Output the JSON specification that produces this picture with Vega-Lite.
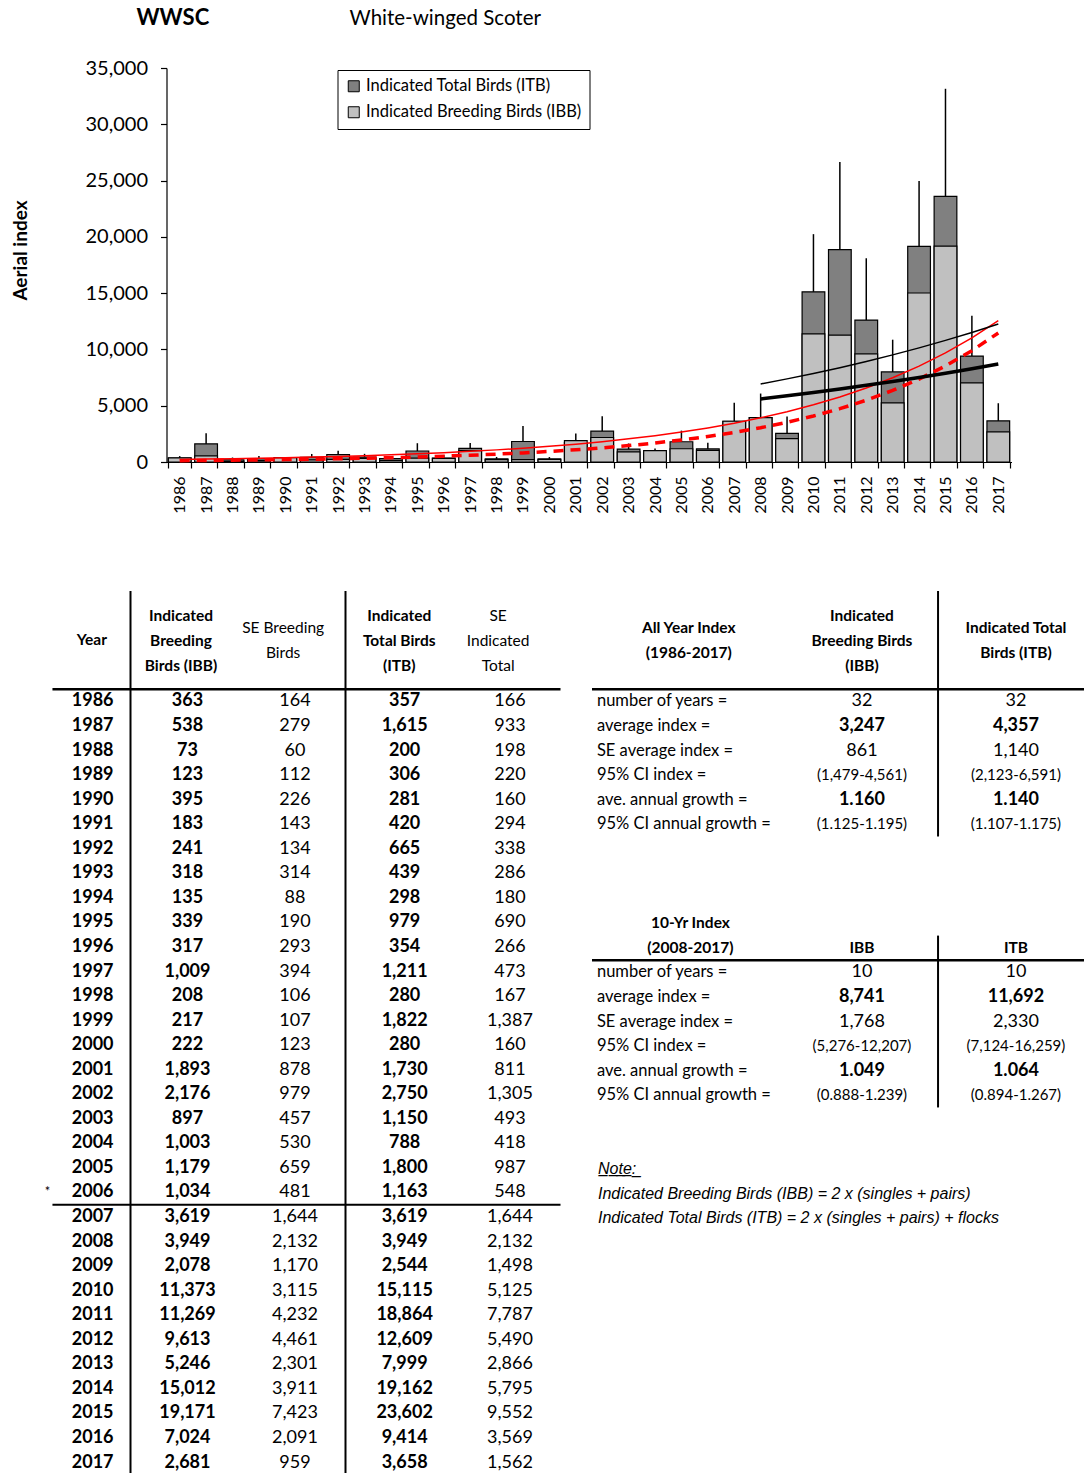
{
  "$schema": "https://vega.github.io/schema/vega-lite/v6.json",
  "background": "white",
  "padding": {"left": 11, "top": 6, "right": 0, "bottom": 0},
  "title": {"text": "WWSC", "anchor": "start", "frame": "group", "dx": 113.5, "offset": -21, "baseline": "top", "fontSize": 22, "fontWeight": "bold", "color": "black"},
  "spacing": 76,
  "datasets": {
    "years": [
      {"year":1986,"ibb":363,"seIbb":164,"itb":357,"seItb":166},
      {"year":1987,"ibb":538,"seIbb":279,"itb":1615,"seItb":933},
      {"year":1988,"ibb":73,"seIbb":60,"itb":200,"seItb":198},
      {"year":1989,"ibb":123,"seIbb":112,"itb":306,"seItb":220},
      {"year":1990,"ibb":395,"seIbb":226,"itb":281,"seItb":160},
      {"year":1991,"ibb":183,"seIbb":143,"itb":420,"seItb":294},
      {"year":1992,"ibb":241,"seIbb":134,"itb":665,"seItb":338},
      {"year":1993,"ibb":318,"seIbb":314,"itb":439,"seItb":286},
      {"year":1994,"ibb":135,"seIbb":88,"itb":298,"seItb":180},
      {"year":1995,"ibb":339,"seIbb":190,"itb":979,"seItb":690},
      {"year":1996,"ibb":317,"seIbb":293,"itb":354,"seItb":266},
      {"year":1997,"ibb":1009,"seIbb":394,"itb":1211,"seItb":473},
      {"year":1998,"ibb":208,"seIbb":106,"itb":280,"seItb":167},
      {"year":1999,"ibb":217,"seIbb":107,"itb":1822,"seItb":1387},
      {"year":2000,"ibb":222,"seIbb":123,"itb":280,"seItb":160},
      {"year":2001,"ibb":1893,"seIbb":878,"itb":1730,"seItb":811},
      {"year":2002,"ibb":2176,"seIbb":979,"itb":2750,"seItb":1305},
      {"year":2003,"ibb":897,"seIbb":457,"itb":1150,"seItb":493},
      {"year":2004,"ibb":1003,"seIbb":530,"itb":788,"seItb":418},
      {"year":2005,"ibb":1179,"seIbb":659,"itb":1800,"seItb":987},
      {"year":2006,"ibb":1034,"seIbb":481,"itb":1163,"seItb":548,"note":"*"},
      {"year":2007,"ibb":3619,"seIbb":1644,"itb":3619,"seItb":1644},
      {"year":2008,"ibb":3949,"seIbb":2132,"itb":3949,"seItb":2132},
      {"year":2009,"ibb":2078,"seIbb":1170,"itb":2544,"seItb":1498},
      {"year":2010,"ibb":11373,"seIbb":3115,"itb":15115,"seItb":5125},
      {"year":2011,"ibb":11269,"seIbb":4232,"itb":18864,"seItb":7787},
      {"year":2012,"ibb":9613,"seIbb":4461,"itb":12609,"seItb":5490},
      {"year":2013,"ibb":5246,"seIbb":2301,"itb":7999,"seItb":2866},
      {"year":2014,"ibb":15012,"seIbb":3911,"itb":19162,"seItb":5795},
      {"year":2015,"ibb":19171,"seIbb":7423,"itb":23602,"seItb":9552},
      {"year":2016,"ibb":7024,"seIbb":2091,"itb":9414,"seItb":3569},
      {"year":2017,"ibb":2681,"seIbb":959,"itb":3658,"seItb":1562}
    ],
    "trend": [
      {"year":1986,"itbAll":228,"ibbAll":119},
      {"year":1987,"itbAll":260,"ibbAll":138},
      {"year":1988,"itbAll":296,"ibbAll":160},
      {"year":1989,"itbAll":336,"ibbAll":185},
      {"year":1990,"itbAll":383,"ibbAll":215},
      {"year":1991,"itbAll":436,"ibbAll":249},
      {"year":1992,"itbAll":496,"ibbAll":288},
      {"year":1993,"itbAll":564,"ibbAll":334},
      {"year":1994,"itbAll":642,"ibbAll":387},
      {"year":1995,"itbAll":731,"ibbAll":448},
      {"year":1996,"itbAll":831,"ibbAll":520},
      {"year":1997,"itbAll":946,"ibbAll":602},
      {"year":1998,"itbAll":1077,"ibbAll":698},
      {"year":1999,"itbAll":1225,"ibbAll":808},
      {"year":2000,"itbAll":1394,"ibbAll":937},
      {"year":2001,"itbAll":1587,"ibbAll":1085},
      {"year":2002,"itbAll":1806,"ibbAll":1257},
      {"year":2003,"itbAll":2055,"ibbAll":1457},
      {"year":2004,"itbAll":2338,"ibbAll":1688},
      {"year":2005,"itbAll":2661,"ibbAll":1956},
      {"year":2006,"itbAll":3028,"ibbAll":2267},
      {"year":2007,"itbAll":3446,"ibbAll":2627},
      {"year":2008,"itbAll":3922,"ibbAll":3044,"itb10":6930,"ibb10":5597},
      {"year":2009,"itbAll":4463,"ibbAll":3527,"itb10":7384,"ibb10":5878},
      {"year":2010,"itbAll":5079,"ibbAll":4086,"itb10":7867,"ibb10":6174},
      {"year":2011,"itbAll":5779,"ibbAll":4735,"itb10":8382,"ibb10":6484},
      {"year":2012,"itbAll":6577,"ibbAll":5486,"itb10":8931,"ibb10":6810},
      {"year":2013,"itbAll":7484,"ibbAll":6357,"itb10":9516,"ibb10":7152},
      {"year":2014,"itbAll":8517,"ibbAll":7366,"itb10":10139,"ibb10":7512},
      {"year":2015,"itbAll":9692,"ibbAll":8535,"itb10":10803,"ibb10":7889},
      {"year":2016,"itbAll":11030,"ibbAll":9890,"itb10":11510,"ibb10":8286},
      {"year":2017,"itbAll":12552,"ibbAll":11460,"itb10":12264,"ibb10":8706}
    ]
  },
  "vconcat": [
    {
      "width": 988.5,
      "height": 394,
      "title": {"text": "White-winged Scoter", "anchor": "start", "frame": "group", "dx": 326.5, "offset": 29, "baseline": "top", "fontSize": 20.5, "fontWeight": "normal", "color": "black"},
      "data": {"name": "years"},
      "encoding": {
        "x": {"field": "year", "type": "ordinal", "scale": {"range": [143.5, 988.5], "paddingInner": 0.14, "paddingOuter": 0.07},
          "axis": {"title": null, "labelAngle": -90, "labelFontSize": 16, "labelPadding": 8, "tickBand": "extent", "tickSize": 6, "tickWidth": 1.2, "domainWidth": 1.2}}
      },
      "layer": [
        {"mark": {"type": "errorbar", "color": "black", "thickness": 1.5},
         "encoding": {
           "y": {"field": "itb", "type": "quantitative", "title": "Aerial index", "scale": {"domain": [0, 35000], "nice": false},
             "axis": {"values": [0,5000,10000,15000,20000,25000,30000,35000], "format": ",.0f", "offset": -143.5, "grid": false, "labelFontSize": 20, "labelPadding": 13, "tickSize": 6, "tickWidth": 1.2, "domainWidth": 1.2, "titleFontSize": 19, "titleFontWeight": "bold", "titleAngle": -90, "titleAlign": "center", "titleBaseline": "middle", "titleX": -146, "titleY": 182}},
           "yError": {"field": "seItb"}}},
        {"mark": {"type": "bar", "stroke": "black", "strokeWidth": 1.2},
         "encoding": {
           "y": {"field": "itb", "type": "quantitative", "title": "Aerial index"},
           "color": {"datum": "Indicated Total Birds (ITB)", "type": "nominal",
             "scale": {"domain": ["Indicated Total Birds (ITB)", "Indicated Breeding Birds (IBB)"], "range": ["#808080", "#c0c0c0"]},
             "legend": {"orient": "none", "legendX": 314.5, "legendY": 2, "title": null, "symbolType": "square", "symbolSize": 121, "symbolStrokeColor": "black", "symbolStrokeWidth": 1, "labelFontSize": 16.5, "labelLimit": 400, "labelColor": "black", "strokeColor": "black", "fillColor": "white", "padding": 8, "rowPadding": 9, "labelOffset": 4}}}},
        {"mark": {"type": "bar", "stroke": "black", "strokeWidth": 1.2},
         "encoding": {
           "y": {"field": "ibb", "type": "quantitative", "title": "Aerial index"},
           "color": {"datum": "Indicated Breeding Birds (IBB)", "type": "nominal"}}},
        {"data": {"name": "trend"}, "mark": {"type": "line", "color": "#ff0000", "strokeWidth": 1.5},
         "encoding": {"y": {"field": "itbAll", "type": "quantitative", "title": "Aerial index"}}},
        {"data": {"name": "trend"}, "mark": {"type": "line", "color": "#ff0000", "strokeWidth": 3.5, "strokeDash": [10, 7]},
         "encoding": {"y": {"field": "ibbAll", "type": "quantitative", "title": "Aerial index"}}},
        {"data": {"name": "trend"}, "mark": {"type": "line", "color": "black", "strokeWidth": 1.5},
         "encoding": {"y": {"field": "itb10", "type": "quantitative", "title": "Aerial index"}}},
        {"data": {"name": "trend"}, "mark": {"type": "line", "color": "black", "strokeWidth": 3.5},
         "encoding": {"y": {"field": "ibb10", "type": "quantitative", "title": "Aerial index"}}}
      ]
    },
    {
      "spacing": 28,
      "hconcat": [
        {
          "width": 537.5,
          "height": 883.8,
          "data": {"name": "years"},
          "layer": [
            {"data": {"values": [{}]}, "mark": {"type": "rule", "strokeWidth": 2, "color": "black"},
             "encoding": {"x": {"datum": "ibb", "type": "nominal", "bandPosition": 0, "scale": {"type": "band", "domain": ["year","ibb","seIbb","itb","seItb"]}, "axis": null}}},
            {"data": {"values": [{}]}, "mark": {"type": "rule", "strokeWidth": 2, "color": "black"},
             "encoding": {"x": {"datum": "itb", "type": "nominal", "bandPosition": 0, "scale": {"type": "band"}, "axis": null}}},
            {"data": {"values": [{}]}, "mark": {"type": "rule", "strokeWidth": 2.5, "color": "black"},
             "encoding": {
               "x": {"datum": "year", "type": "nominal", "bandPosition": 0.274, "scale": {"type": "band"}, "axis": null},
               "x2": {"datum": "seItb", "bandPosition": 1},
               "y": {"datum": 1986, "type": "ordinal", "bandPosition": 0, "axis": null,
                 "scale": {"type": "band", "domain": ["h1","h2","h3","h4",1986,1987,1988,1989,1990,1991,1992,1993,1994,1995,1996,1997,1998,1999,2000,2001,2002,2003,2004,2005,2006,2007,2008,2009,2010,2011,2012,2013,2014,2015,2016,2017]}}}},
            {"data": {"values": [{}]}, "mark": {"type": "rule", "strokeWidth": 2, "color": "black"},
             "encoding": {
               "x": {"datum": "year", "type": "nominal", "bandPosition": 0.274, "scale": {"type": "band"}, "axis": null},
               "x2": {"datum": "seItb", "bandPosition": 1},
               "y": {"datum": 2007, "type": "ordinal", "bandPosition": 0, "scale": {"type": "band"}, "axis": null}}},
            {"mark": {"type": "text", "fontSize": 18, "fontWeight": "bold", "align": "right"},
             "encoding": {
               "x": {"datum": "year", "type": "nominal", "bandPosition": 0.842, "scale": {"type": "band"}, "axis": null},
               "y": {"field": "year", "type": "ordinal", "scale": {"type": "band"}, "axis": null},
               "text": {"field": "year", "type": "ordinal"}}},
            {"mark": {"type": "text", "fontSize": 18, "fontWeight": "bold"},
             "encoding": {
               "x": {"datum": "ibb", "type": "nominal", "bandPosition": 0.53, "scale": {"type": "band"}, "axis": null},
               "y": {"field": "year", "type": "ordinal", "scale": {"type": "band"}, "axis": null},
               "text": {"field": "ibb", "type": "quantitative", "format": ","}}},
            {"mark": {"type": "text", "fontSize": 18, "fontWeight": "normal"},
             "encoding": {
               "x": {"datum": "seIbb", "type": "nominal", "bandPosition": 0.53, "scale": {"type": "band"}, "axis": null},
               "y": {"field": "year", "type": "ordinal", "scale": {"type": "band"}, "axis": null},
               "text": {"field": "seIbb", "type": "quantitative", "format": ","}}},
            {"mark": {"type": "text", "fontSize": 18, "fontWeight": "bold"},
             "encoding": {
               "x": {"datum": "itb", "type": "nominal", "bandPosition": 0.55, "scale": {"type": "band"}, "axis": null},
               "y": {"field": "year", "type": "ordinal", "scale": {"type": "band"}, "axis": null},
               "text": {"field": "itb", "type": "quantitative", "format": ","}}},
            {"mark": {"type": "text", "fontSize": 18, "fontWeight": "normal"},
             "encoding": {
               "x": {"datum": "seItb", "type": "nominal", "bandPosition": 0.53, "scale": {"type": "band"}, "axis": null},
               "y": {"field": "year", "type": "ordinal", "scale": {"type": "band"}, "axis": null},
               "text": {"field": "seItb", "type": "quantitative", "format": ","}}},
            {"transform": [{"filter": "datum.note"}],
             "mark": {"type": "text", "fontSize": 13, "fontWeight": "normal"},
             "encoding": {
               "x": {"datum": "year", "type": "nominal", "bandPosition": 0.228, "scale": {"type": "band"}, "axis": null},
               "y": {"field": "year", "type": "ordinal", "scale": {"type": "band"}, "axis": null},
               "text": {"field": "note", "type": "nominal"}}},
            {"data": {"values": [{}]}, "mark": {"type": "text", "fontSize": 15.5, "fontWeight": "bold"},
             "encoding": {
               "x": {"datum": "year", "type": "nominal", "bandPosition": 0.64, "scale": {"type": "band"}, "axis": null},
               "y": {"datum": "h3", "type": "ordinal", "bandPosition": 0, "scale": {"type": "band"}, "axis": null},
               "text": {"value": "Year"}}},
            {"data": {"values": [{}]}, "mark": {"type": "text", "fontSize": 15.5, "fontWeight": "bold", "lineHeight": 25},
             "encoding": {
               "x": {"datum": "ibb", "type": "nominal", "bandPosition": 0.47, "scale": {"type": "band"}, "axis": null},
               "y": {"datum": "h2", "type": "ordinal", "bandPosition": 0, "scale": {"type": "band"}, "axis": null},
               "text": {"value": ["Indicated", "Breeding", "Birds (IBB)"]}}},
            {"data": {"values": [{}]}, "mark": {"type": "text", "fontSize": 15.5, "fontWeight": "normal", "lineHeight": 25},
             "encoding": {
               "x": {"datum": "seIbb", "type": "nominal", "bandPosition": 0.42, "scale": {"type": "band"}, "axis": null},
               "y": {"datum": "h2", "type": "ordinal", "bandPosition": 0.5, "scale": {"type": "band"}, "axis": null},
               "text": {"value": ["SE Breeding", "Birds"]}}},
            {"data": {"values": [{}]}, "mark": {"type": "text", "fontSize": 15.5, "fontWeight": "bold", "lineHeight": 25},
             "encoding": {
               "x": {"datum": "itb", "type": "nominal", "bandPosition": 0.5, "scale": {"type": "band"}, "axis": null},
               "y": {"datum": "h2", "type": "ordinal", "bandPosition": 0, "scale": {"type": "band"}, "axis": null},
               "text": {"value": ["Indicated", "Total Birds", "(ITB)"]}}},
            {"data": {"values": [{}]}, "mark": {"type": "text", "fontSize": 15.5, "fontWeight": "normal", "lineHeight": 25},
             "encoding": {
               "x": {"datum": "seItb", "type": "nominal", "bandPosition": 0.42, "scale": {"type": "band"}, "axis": null},
               "y": {"datum": "h2", "type": "ordinal", "bandPosition": 0, "scale": {"type": "band"}, "axis": null},
               "text": {"value": ["SE", "Indicated", "Total"]}}}
          ]
        },
        {
          "spacing": 48.5,
          "vconcat": [
            {
              "width": 492,
              "height": 245.5,
              "data": {"values": [
                {"stat": "number of years =", "ibb": "32", "itb": "32"},
                {"stat": "average index =", "ibb": "3,247", "itb": "4,357"},
                {"stat": "SE average index =", "ibb": "861", "itb": "1,140"},
                {"stat": "95% CI index =", "ibb": "(1,479-4,561)", "itb": "(2,123-6,591)"},
                {"stat": "ave. annual growth =", "ibb": "1.160", "itb": "1.140"},
                {"stat": "95% CI annual growth =", "ibb": "(1.125-1.195)", "itb": "(1.107-1.175)"}
              ]},
              "layer": [
                {"data": {"values": [{}]}, "mark": {"type": "rule", "strokeWidth": 2, "color": "black"},
                 "encoding": {"x": {"datum": "itb", "type": "nominal", "bandPosition": 0.11, "scale": {"type": "band", "domain": ["label","ibb","itb"]}, "axis": null}}},
                {"data": {"values": [{}]}, "mark": {"type": "rule", "strokeWidth": 2.5, "color": "black"},
                 "encoding": {"y": {"datum": "number of years =", "type": "nominal", "bandPosition": 0, "axis": null,
                   "scale": {"type": "band", "domain": ["h1","h2","h3","h4","number of years =","average index =","SE average index =","95% CI index =","ave. annual growth =","95% CI annual growth ="]}}}},
                {"data": {"values": [{}]}, "mark": {"type": "text", "fontSize": 15.5, "fontWeight": "bold", "lineHeight": 25},
                 "encoding": {
                   "x": {"datum": "label", "type": "nominal", "bandPosition": 0.59, "scale": {"type": "band"}, "axis": null},
                   "y": {"datum": "h2", "type": "nominal", "bandPosition": 0.5, "scale": {"type": "band"}, "axis": null},
                   "text": {"value": ["All Year Index", "(1986-2017)"]}}},
                {"data": {"values": [{}]}, "mark": {"type": "text", "fontSize": 15.5, "fontWeight": "bold", "lineHeight": 25},
                 "encoding": {
                   "x": {"datum": "ibb", "type": "nominal", "bandPosition": 0.646, "scale": {"type": "band"}, "axis": null},
                   "y": {"datum": "h2", "type": "nominal", "bandPosition": 0, "scale": {"type": "band"}, "axis": null},
                   "text": {"value": ["Indicated", "Breeding Birds", "(IBB)"]}}},
                {"data": {"values": [{}]}, "mark": {"type": "text", "fontSize": 15.5, "fontWeight": "bold", "lineHeight": 25},
                 "encoding": {
                   "x": {"datum": "itb", "type": "nominal", "bandPosition": 0.585, "scale": {"type": "band"}, "axis": null},
                   "y": {"datum": "h2", "type": "nominal", "bandPosition": 0.5, "scale": {"type": "band"}, "axis": null},
                   "text": {"value": ["Indicated Total", "Birds (ITB)"]}}},
                {"mark": {"type": "text", "fontSize": 16.5, "align": "left"},
                 "encoding": {
                   "x": {"datum": "label", "type": "nominal", "bandPosition": 0.03, "scale": {"type": "band"}, "axis": null},
                   "y": {"field": "stat", "type": "nominal", "scale": {"type": "band"}, "axis": null},
                   "text": {"field": "stat"}}},
                {"transform": [{"filter": "datum.stat == 'number of years =' || datum.stat == 'SE average index ='"}],
                 "mark": {"type": "text", "fontSize": 18},
                 "encoding": {
                   "x": {"datum": "ibb", "type": "nominal", "bandPosition": 0.646, "scale": {"type": "band"}, "axis": null},
                   "y": {"field": "stat", "type": "nominal", "scale": {"type": "band"}, "axis": null},
                   "text": {"field": "ibb"}}},
                {"transform": [{"filter": "datum.stat == 'average index =' || datum.stat == 'ave. annual growth ='"}],
                 "mark": {"type": "text", "fontSize": 18, "fontWeight": "bold"},
                 "encoding": {
                   "x": {"datum": "ibb", "type": "nominal", "bandPosition": 0.646, "scale": {"type": "band"}, "axis": null},
                   "y": {"field": "stat", "type": "nominal", "scale": {"type": "band"}, "axis": null},
                   "text": {"field": "ibb"}}},
                {"transform": [{"filter": "indexof(datum.stat, '95%') == 0"}],
                 "mark": {"type": "text", "fontSize": 15},
                 "encoding": {
                   "x": {"datum": "ibb", "type": "nominal", "bandPosition": 0.646, "scale": {"type": "band"}, "axis": null},
                   "y": {"field": "stat", "type": "nominal", "scale": {"type": "band"}, "axis": null},
                   "text": {"field": "ibb"}}},
                {"transform": [{"filter": "datum.stat == 'number of years =' || datum.stat == 'SE average index ='"}],
                 "mark": {"type": "text", "fontSize": 18},
                 "encoding": {
                   "x": {"datum": "itb", "type": "nominal", "bandPosition": 0.585, "scale": {"type": "band"}, "axis": null},
                   "y": {"field": "stat", "type": "nominal", "scale": {"type": "band"}, "axis": null},
                   "text": {"field": "itb"}}},
                {"transform": [{"filter": "datum.stat == 'average index =' || datum.stat == 'ave. annual growth ='"}],
                 "mark": {"type": "text", "fontSize": 18, "fontWeight": "bold"},
                 "encoding": {
                   "x": {"datum": "itb", "type": "nominal", "bandPosition": 0.585, "scale": {"type": "band"}, "axis": null},
                   "y": {"field": "stat", "type": "nominal", "scale": {"type": "band"}, "axis": null},
                   "text": {"field": "itb"}}},
                {"transform": [{"filter": "indexof(datum.stat, '95%') == 0"}],
                 "mark": {"type": "text", "fontSize": 15},
                 "encoding": {
                   "x": {"datum": "itb", "type": "nominal", "bandPosition": 0.585, "scale": {"type": "band"}, "axis": null},
                   "y": {"field": "stat", "type": "nominal", "scale": {"type": "band"}, "axis": null},
                   "text": {"field": "itb"}}}
              ]
            },
            {
              "width": 492,
              "height": 220.95,
              "data": {"values": [
                {"stat": "number of years =", "ibb": "10", "itb": "10"},
                {"stat": "average index =", "ibb": "8,741", "itb": "11,692"},
                {"stat": "SE average index =", "ibb": "1,768", "itb": "2,330"},
                {"stat": "95% CI index =", "ibb": "(5,276-12,207)", "itb": "(7,124-16,259)"},
                {"stat": "ave. annual growth =", "ibb": "1.049", "itb": "1.064"},
                {"stat": "95% CI annual growth =", "ibb": "(0.888-1.239)", "itb": "(0.894-1.267)"}
              ]},
              "layer": [
                {"data": {"values": [{}]}, "mark": {"type": "rule", "strokeWidth": 2, "color": "black"},
                 "encoding": {
                   "x": {"datum": "itb", "type": "nominal", "bandPosition": 0.11, "scale": {"type": "band", "domain": ["label","ibb","itb"]}, "axis": null},
                   "y": {"datum": "t2", "type": "nominal", "bandPosition": 0, "axis": null,
                     "scale": {"type": "band", "domain": ["t0","t1","t2","number of years =","average index =","SE average index =","95% CI index =","ave. annual growth =","95% CI annual growth ="]}},
                   "y2": {"datum": "95% CI annual growth =", "bandPosition": 1}}},
                {"data": {"values": [{}]}, "mark": {"type": "rule", "strokeWidth": 2.5, "color": "black"},
                 "encoding": {"y": {"datum": "number of years =", "type": "nominal", "bandPosition": 0, "scale": {"type": "band"}, "axis": null}}},
                {"data": {"values": [{}]}, "mark": {"type": "text", "fontSize": 15.5, "fontWeight": "bold", "lineHeight": 25},
                 "encoding": {
                   "x": {"datum": "label", "type": "nominal", "bandPosition": 0.6, "scale": {"type": "band"}, "axis": null},
                   "y": {"datum": "t1", "type": "nominal", "bandPosition": 0.5, "scale": {"type": "band"}, "axis": null},
                   "text": {"value": ["10-Yr Index", "(2008-2017)"]}}},
                {"data": {"values": [{}]}, "mark": {"type": "text", "fontSize": 15.5, "fontWeight": "bold"},
                 "encoding": {
                   "x": {"datum": "ibb", "type": "nominal", "bandPosition": 0.646, "scale": {"type": "band"}, "axis": null},
                   "y": {"datum": "t2", "type": "nominal", "bandPosition": 0.5, "scale": {"type": "band"}, "axis": null},
                   "text": {"value": "IBB"}}},
                {"data": {"values": [{}]}, "mark": {"type": "text", "fontSize": 15.5, "fontWeight": "bold"},
                 "encoding": {
                   "x": {"datum": "itb", "type": "nominal", "bandPosition": 0.585, "scale": {"type": "band"}, "axis": null},
                   "y": {"datum": "t2", "type": "nominal", "bandPosition": 0.5, "scale": {"type": "band"}, "axis": null},
                   "text": {"value": "ITB"}}},
                {"mark": {"type": "text", "fontSize": 16.5, "align": "left"},
                 "encoding": {
                   "x": {"datum": "label", "type": "nominal", "bandPosition": 0.03, "scale": {"type": "band"}, "axis": null},
                   "y": {"field": "stat", "type": "nominal", "scale": {"type": "band"}, "axis": null},
                   "text": {"field": "stat"}}},
                {"transform": [{"filter": "datum.stat == 'number of years =' || datum.stat == 'SE average index ='"}],
                 "mark": {"type": "text", "fontSize": 18},
                 "encoding": {
                   "x": {"datum": "ibb", "type": "nominal", "bandPosition": 0.646, "scale": {"type": "band"}, "axis": null},
                   "y": {"field": "stat", "type": "nominal", "scale": {"type": "band"}, "axis": null},
                   "text": {"field": "ibb"}}},
                {"transform": [{"filter": "datum.stat == 'average index =' || datum.stat == 'ave. annual growth ='"}],
                 "mark": {"type": "text", "fontSize": 18, "fontWeight": "bold"},
                 "encoding": {
                   "x": {"datum": "ibb", "type": "nominal", "bandPosition": 0.646, "scale": {"type": "band"}, "axis": null},
                   "y": {"field": "stat", "type": "nominal", "scale": {"type": "band"}, "axis": null},
                   "text": {"field": "ibb"}}},
                {"transform": [{"filter": "indexof(datum.stat, '95%') == 0"}],
                 "mark": {"type": "text", "fontSize": 15},
                 "encoding": {
                   "x": {"datum": "ibb", "type": "nominal", "bandPosition": 0.646, "scale": {"type": "band"}, "axis": null},
                   "y": {"field": "stat", "type": "nominal", "scale": {"type": "band"}, "axis": null},
                   "text": {"field": "ibb"}}},
                {"transform": [{"filter": "datum.stat == 'number of years =' || datum.stat == 'SE average index ='"}],
                 "mark": {"type": "text", "fontSize": 18},
                 "encoding": {
                   "x": {"datum": "itb", "type": "nominal", "bandPosition": 0.585, "scale": {"type": "band"}, "axis": null},
                   "y": {"field": "stat", "type": "nominal", "scale": {"type": "band"}, "axis": null},
                   "text": {"field": "itb"}}},
                {"transform": [{"filter": "datum.stat == 'average index =' || datum.stat == 'ave. annual growth ='"}],
                 "mark": {"type": "text", "fontSize": 18, "fontWeight": "bold"},
                 "encoding": {
                   "x": {"datum": "itb", "type": "nominal", "bandPosition": 0.585, "scale": {"type": "band"}, "axis": null},
                   "y": {"field": "stat", "type": "nominal", "scale": {"type": "band"}, "axis": null},
                   "text": {"field": "itb"}}},
                {"transform": [{"filter": "indexof(datum.stat, '95%') == 0"}],
                 "mark": {"type": "text", "fontSize": 15},
                 "encoding": {
                   "x": {"datum": "itb", "type": "nominal", "bandPosition": 0.585, "scale": {"type": "band"}, "axis": null},
                   "y": {"field": "stat", "type": "nominal", "scale": {"type": "band"}, "axis": null},
                   "text": {"field": "itb"}}}
              ]
            },
            {
              "width": 492,
              "height": 73.6,
              "data": {"values": [
                {"line": "N\u0332o\u0332t\u0332e\u0332:\u0332"},
                {"line": "Indicated Breeding Birds (IBB) = 2 x (singles + pairs)"},
                {"line": "Indicated Total Birds (ITB) = 2 x (singles + pairs) + flocks"}
              ]},
              "mark": {"type": "text", "align": "left", "font": "Liberation Sans", "fontStyle": "italic", "fontSize": 16, "dx": 6},
              "encoding": {
                "x": {"datum": "note", "type": "nominal", "bandPosition": 0, "scale": {"type": "band"}, "axis": null},
                "y": {"field": "line", "type": "nominal", "sort": null, "scale": {"type": "band"}, "axis": null},
                "text": {"field": "line"}
              }
            }
          ]
        }
      ]
    }
  ],
  "config": {
    "font": "Lato",
    "view": {"stroke": null},
    "scale": {"bandPaddingInner": 0, "bandPaddingOuter": 0},
    "axis": {"labelColor": "black", "titleColor": "black", "domainColor": "black", "tickColor": "black", "labelFont": "Lato", "titleFont": "Lato"},
    "title": {"color": "black", "font": "Lato"},
    "text": {"color": "black"}
  }
}
